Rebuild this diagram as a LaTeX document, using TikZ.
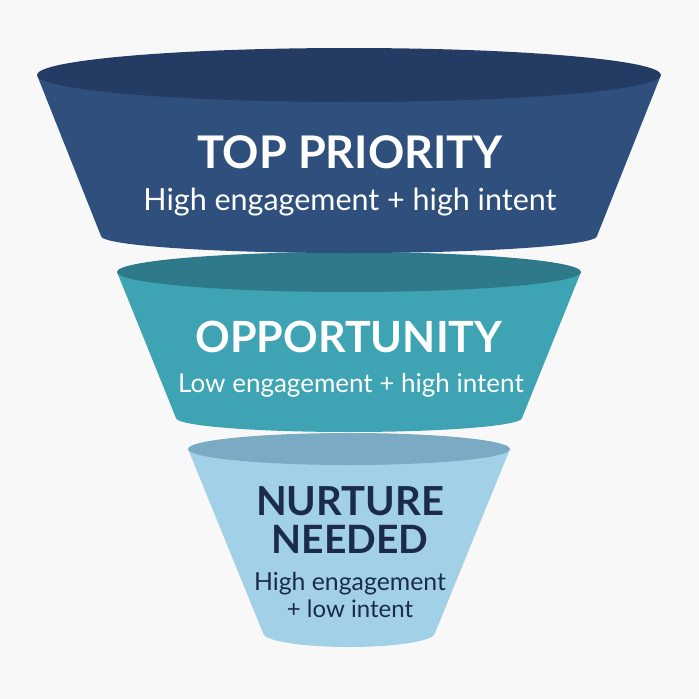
\documentclass[tikz,border=0pt]{standalone}
\usepackage{fontspec}
\setmainfont{Lato}
\usepackage{tikz}
\usetikzlibrary{positioning}

\definecolor{bgGray}{HTML}{F8F8F8}
\definecolor{navyTop}{HTML}{243C63}
\definecolor{navyBody}{HTML}{2F4F7D}
\definecolor{tealTop}{HTML}{2E7A8B}
\definecolor{tealBody}{HTML}{3EA3B3}
\definecolor{skyTop}{HTML}{7AAAC4}
\definecolor{skyBody}{HTML}{A2D0E6}
\definecolor{inkNavy}{HTML}{1B2B4B}

\begin{document}
\begin{tikzpicture}[x=1pt, y=-1pt, inner sep=0pt, outer sep=0pt]
			\tikzset{title/.style={font=\bfseries\fontsize{45}{45}\selectfont, anchor=base},
				subtitle/.style={font=\fontsize{30.5}{30.5}\selectfont, anchor=base}}
			% Colors: navy, teal, sky, ink...

			% Canvas
			\fill[bgGray] (0,0) rectangle (699,699);
			\useasboundingbox (0,0) rectangle (699,699);

			% Bottom level
			\fill[skyBody] (188,449) -- (263,633) -- (435,633) -- (510,449) -- cycle;
			\fill[skyBody] (349,633) ellipse [x radius=86, y radius=14];
			\fill[skyTop] (349,449) ellipse [x radius=161, y radius=16];

			% Middle level
			\fill[tealBody] (117,272) -- (176,418) -- (522,418) -- (581,272) -- cycle;
			\fill[tealBody] (349,418) ellipse [x radius=173, y radius=14];
			\fill[tealTop] (349,272) ellipse [x radius=232, y radius=20];

			% Top level
			\fill[navyBody] (37,75) -- (101,236) -- (597,236) -- (661,75) -- cycle;
			\fill[navyBody] (349,236) ellipse [x radius=248, y radius=17];
			\fill[navyTop] (349,75) ellipse [x radius=312, y radius=27];

			% Labels
			\node[title, text=white] (top) at (350,168) {TOP PRIORITY};
			\node[subtitle, text=white] (topSub) at (350,210) {High engagement + high intent};
			\node[title, text=white, font=\bfseries\fontsize{43}{43}\selectfont] (opp) at (349,352) {OPPORTUNITY};
			\node[subtitle, text=white, font=\fontsize{26}{26}\selectfont] (oppSub) at (351,392) {Low engagement + high intent};
			\node[title, text=inkNavy, font=\bfseries\fontsize{40}{40}\selectfont] (nur) at (350,515) {NURTURE};
			\node[title, text=inkNavy, font=\bfseries\fontsize{39}{39}\selectfont] (need) at (350,553) {NEEDED};
			\node[subtitle, text=inkNavy, font=\fontsize{24.8}{24.8}\selectfont] (nurSub) at (350,590) {High engagement};
			\node[subtitle, text=inkNavy, font=\fontsize{24}{24}\selectfont] (nurSubB) at (350,617) {+ low intent};
	\end{tikzpicture}
\end{document}
